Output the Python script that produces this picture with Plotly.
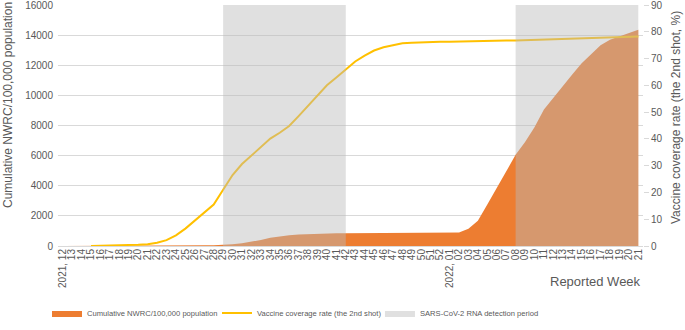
import plotly.graph_objects as go
from plotly.subplots import make_subplots

# ---- data ----
week_labels = (
    ["2021, 12", "13", "14", "15", "16", "17", "18", "19", "20", "21", "22", "23",
     "24", "25", "26", "27", "28", "29", "30", "31", "32", "33", "34", "35", "36",
     "37", "38", "39", "40", "41", "42", "43", "44", "45", "46", "47", "48", "49",
     "50", "51", "52",
     "2022, 01", "02", "03", "04", "05", "06", "07", "08", "09", "10", "11", "12",
     "13", "14", "15", "16", "17", "18", "19", "20", "21"]
)

nwrc_cumulative = [
    0, 0, 0, 0, 0, 0, 0, 0, 0, 0,
    10, 20, 30, 35, 40, 45, 55,
    70, 110, 180, 280, 400, 550, 650, 720, 770, 800, 815, 830, 840, 850,
    850, 850, 850, 851, 852, 853, 854, 855, 856, 858,
    860, 890, 1150, 1680, 2750, 3880, 5000, 6050,
    6900, 7880, 9070, 9860, 10630, 11380, 12140, 12740, 13330, 13700, 13900, 14100, 14350,
]

vaccine_rate = [
    None, None, None,
    0, 0.05, 0.1, 0.2, 0.3, 0.5, 0.7, 1.2, 2.2, 4.0, 6.5, 9.5, 12.5, 15.5,
    21.0, 26.5, 30.6, 33.8, 36.9, 40.1, 42.3, 44.8, 48.5, 52.3, 55.9, 60.0, 62.9, 65.8, 68.9,
    71.1, 73.0, 74.2, 75.0, 75.7, 75.9, 76.1, 76.2, 76.3, 76.3, 76.4,
    76.5, 76.5, 76.6, 76.6, 76.7, 76.7,
    76.8, 76.9, 77.0, 77.1, 77.2, 77.4, 77.5, 77.7, 77.8, 77.9, 78.0, 78.1, 78.2,
]

# detection periods as (start label index, end label index)
detection_periods = [(17, 30), (48, 61)]

# unique category keys built from the labels
week_keys = []
year = ""
for lab in week_labels:
    if "," in lab:
        year, wk = [s.strip() for s in lab.split(",")]
    else:
        wk = lab
    week_keys.append(f"{year}-W{wk}")

FONT = "Liberation Sans, Arial, sans-serif"
TICK = "#595959"
GRID = "#D9D9D9"

fig = make_subplots(specs=[[{"secondary_y": True}]])

fig.add_trace(go.Scatter(
    x=week_keys, y=nwrc_cumulative, name="Cumulative NWRC/100,000 population",
    mode="lines", line=dict(width=0, color="#ED7D31"), fill="tozeroy",
    fillcolor="#ED7D31", hoverinfo="skip", legend="legend"), secondary_y=False)

fig.add_trace(go.Scatter(
    x=week_keys, y=vaccine_rate, name="Vaccine coverage rate (the 2nd shot)",
    mode="lines", line=dict(width=2, color="#FFC000"), hoverinfo="skip",
    legend="legend2"), secondary_y=True)

for k, (a, b) in enumerate(detection_periods):
    fig.add_trace(go.Scatter(
        x=[week_keys[a], week_keys[b]], y=[90, 90],
        name="SARS-CoV-2 RNA detection period", legendgroup="det",
        showlegend=(k == 0), mode="lines", line=dict(width=0),
        fill="tozeroy", fillcolor="rgba(187,187,187,0.45)", hoverinfo="skip",
        legend="legend3"), secondary_y=True)

fig.update_xaxes(
    type="category", categoryorder="array", categoryarray=week_keys,
    range=[-0.5, len(week_keys) - 0.5], automargin=False, domain=[0, 1],
    tickmode="array", tickvals=week_keys, ticktext=week_labels,
    tickangle=-90, tickfont=dict(family=FONT, size=10, color=TICK),
    showgrid=False, showline=False, ticks="", zeroline=False)

fig.update_yaxes(
    range=[0, 16000], dtick=2000, tickformat="d", automargin=False,
    showgrid=True, gridcolor=GRID, gridwidth=1, ticklabeloverflow="allow",
    zeroline=True, zerolinecolor=GRID, zerolinewidth=1, showline=False,
    tickfont=dict(family=FONT, size=10, color=TICK), ticks="",
    ticklabelstandoff=4, secondary_y=False)

fig.update_yaxes(
    range=[0, 90], dtick=10, automargin=False, ticklabeloverflow="allow",
    showgrid=False, zeroline=False, showline=False,
    ticks="outside", ticklen=5, tickcolor=GRID,
    tickfont=dict(family=FONT, size=10, color=TICK), secondary_y=True)

fig.add_annotation(text="Cumulative NWRC/100,000 population", textangle=-90,
                   x=-0.0855, y=0.585, xref="paper", yref="paper",
                   xanchor="center", yanchor="middle", showarrow=False,
                   font=dict(family=FONT, size=12, color=TICK))
fig.add_annotation(text="Vaccine coverage rate (the 2nd shot, %)", textangle=-90,
                   x=1.0564, y=0.535, xref="paper", yref="paper",
                   xanchor="center", yanchor="middle", showarrow=False,
                   font=dict(family=FONT, size=12, color=TICK))
fig.add_annotation(text="Reported Week", x=1.0, y=-0.149, xref="paper", yref="paper",
                   xanchor="right", yanchor="middle", showarrow=False,
                   font=dict(family=FONT, size=13, color=TICK))

legend_common = dict(orientation="h", y=-0.278, xanchor="left", yanchor="middle",
                     font=dict(family=FONT, size=7.6, color=TICK),
                     itemwidth=30, bgcolor="rgba(0,0,0,0)")

fig.update_layout(
    width=685, height=330,
    margin=dict(l=58, r=42, t=5, b=84, autoexpand=False),
    plot_bgcolor="white", paper_bgcolor="white",
    font=dict(family=FONT, color=TICK),
    showlegend=True,
    legend=dict(x=-0.0188, **legend_common),
    legend2=dict(x=0.2718, **legend_common),
    legend3=dict(x=0.5504, **legend_common),
)

fig.write_html(
    "out.html",
    config={"displayModeBar": False},
    post_script="document.body.style.margin='0';document.body.style.overflow='hidden';",
)
